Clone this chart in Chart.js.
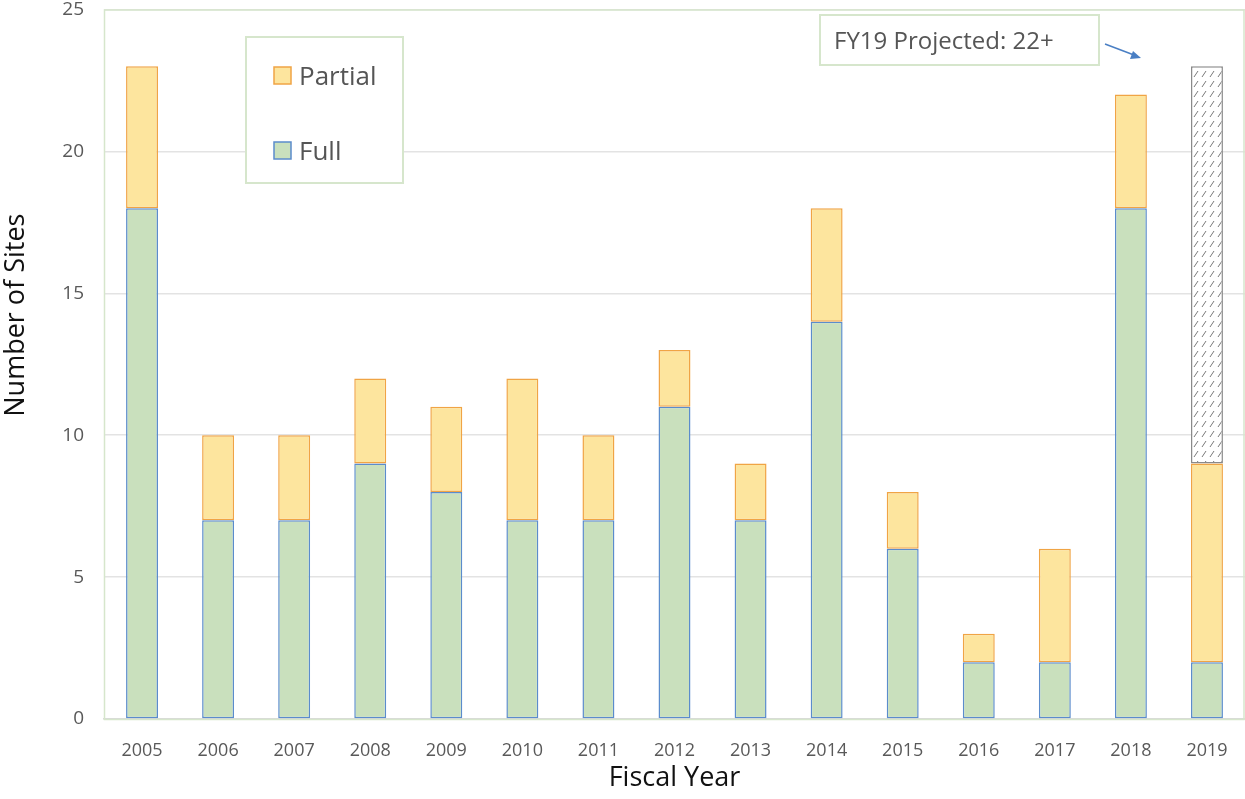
<!DOCTYPE html>
<html>
<head>
<meta charset="utf-8">
<script src="https://cdn.jsdelivr.net/npm/chart.js@4/dist/chart.umd.min.js"></script>
<style>
  html, body { margin: 0; padding: 0; background: #fff; }
  #wrap { width: 1245px; height: 799px; overflow: hidden; }
  #c { display: block; margin-top: -11px; }
</style>
</head>
<body>
<div id="wrap"><canvas id="c" width="1245" height="810"></canvas></div>
<script>
// fiscal years and site counts
const years = ["2005", "2006", "2007", "2008", "2009", "2010", "2011", "2012",
               "2013", "2014", "2015", "2016", "2017", "2018", "2019"];
const fullSites = [18, 7, 7, 9, 8, 7, 7, 11, 7, 14, 6, 2, 2, 18, 2];
const partialSites = [5, 3, 3, 3, 3, 5, 3, 2, 2, 4, 2, 1, 4, 4, 7];
const projectedSites = [0, 0, 0, 0, 0, 0, 0, 0, 0, 0, 0, 0, 0, 0, 14];
const yMax = 25;
const yStep = 5;
const noteText = "FY19 Projected: 22+";

const FONT = "'Open Sans', sans-serif";
const SHIFT = 11; // canvas is pulled up by this much

// hatched fill for the projected part
function makeHatch() {
    const p = document.createElement("canvas");
    p.width = 8;
    p.height = 10;
    const g = p.getContext("2d");
    g.fillStyle = "#ffffff";
    g.fillRect(0, 0, 8, 10);
    g.strokeStyle = "#7a7a7a";
    g.lineWidth = 1;
    g.beginPath();
    g.moveTo(2, 8);
    g.lineTo(6, 2);
    g.stroke();
    return g.createPattern(p, "repeat");
}

// plot frame, legend box and the note with its arrow
const extras = {
    id: "extras",
    beforeDatasetsDraw(chart) {
        const { ctx, chartArea: a } = chart;
        ctx.save();
        ctx.strokeStyle = "#d6e6cc";
        ctx.lineWidth = 1.5;
        ctx.strokeRect(a.left + 0.5, a.top + 0.5, a.right - a.left - 1.5, a.bottom - a.top);
        ctx.restore();
    },
    afterDatasetsDraw(chart) {
        const { ctx } = chart;
        ctx.save();
        ctx.translate(0, SHIFT);
        // legend
        ctx.fillStyle = "#ffffff";
        ctx.fillRect(246, 37, 157, 146);
        ctx.strokeStyle = "#d6e6cc";
        ctx.lineWidth = 2;
        ctx.strokeRect(246, 37, 157, 146);
        const items = [chart.data.datasets[1], chart.data.datasets[0]];
        const ys = [77, 152];
        ctx.font = "26px " + FONT;
        ctx.textBaseline = "middle";
        items.forEach((ds, i) => {
            ctx.fillStyle = ds.backgroundColor;
            ctx.strokeStyle = ds.borderColor;
            ctx.lineWidth = 1.5;
            ctx.fillRect(274, ys[i] - 10, 17, 17);
            ctx.strokeRect(274, ys[i] - 10, 17, 17);
            ctx.fillStyle = "#555555";
            ctx.fillText(ds.label, 299, ys[i] + 1);
        });
        // note
        ctx.fillStyle = "#ffffff";
        ctx.fillRect(820, 15, 279, 50);
        ctx.strokeStyle = "#d6e6cc";
        ctx.lineWidth = 2;
        ctx.strokeRect(820, 15, 279, 50);
        ctx.fillStyle = "#555555";
        ctx.font = "24px " + FONT;
        ctx.fillText(noteText, 834, 42);
        ctx.strokeStyle = "#4a7fc4";
        ctx.fillStyle = "#4a7fc4";
        ctx.lineWidth = 1.5;
        ctx.beginPath();
        ctx.moveTo(1105, 44);
        ctx.lineTo(1134, 55);
        ctx.stroke();
        ctx.beginPath();
        ctx.moveTo(1141, 58);
        ctx.lineTo(1130, 59);
        ctx.lineTo(1133, 51);
        ctx.closePath();
        ctx.fill();
        ctx.restore();
    }
};

new Chart(document.getElementById("c"), {
    type: "bar",
    data: {
        labels: years,
        datasets: [
            {
                label: "Full",
                data: fullSites,
                backgroundColor: "#c9e0bd",
                borderColor: "#5b8ccc",
                borderWidth: 1.5,
                borderSkipped: false,
            },
            {
                label: "Partial",
                data: partialSites,
                backgroundColor: "#fde59e",
                borderColor: "#f0a445",
                borderWidth: 1.5,
                borderSkipped: false,
            },
            {
                label: "Projected",
                data: projectedSites,
                backgroundColor: makeHatch(),
                borderColor: "#8a8a8a",
                borderWidth: 1.5,
                borderSkipped: false,
            },
        ],
    },
    options: {
        responsive: false,
        animation: false,
        layout: { autoPadding: false, padding: { top: 0, left: 0, right: 0, bottom: 0 } },
        datasets: { bar: { categoryPercentage: 0.84, barPercentage: 0.5 } },
        plugins: {
            legend: { display: false },
            tooltip: { enabled: false },
        },
        scales: {
            x: {
                stacked: true,
                grid: { display: false },
                border: { color: "#d9d9d9", width: 1.5 },
                ticks: { color: "#595959", font: { family: FONT, size: 18 }, padding: 13 },
                title: {
                    display: true,
                    text: "Fiscal Year",
                    color: "#111111",
                    font: { family: FONT, size: 27 },
                    padding: { top: 0 },
                },
                afterFit(s) { s.height = 80; },
            },
            y: {
                stacked: true,
                min: 0,
                max: yMax,
                grid: { color: "#e3e3e3", lineWidth: 1.5, drawTicks: false },
                border: { display: false },
                ticks: {
                    stepSize: yStep,
                    color: "#595959",
                    font: { family: FONT, size: 19, lineHeight: 0.05 },
                    padding: 20,
                },
                title: {
                    display: true,
                    // leading spaces push the rotated title up the axis
                    text: "              Number of Sites",
                    color: "#111111",
                    font: { family: FONT, size: 27 },
                    padding: 0,
                },
                afterFit(s) { s.width = 104; },
            },
        },
    },
    plugins: [extras],
});
</script>
</body>
</html>
